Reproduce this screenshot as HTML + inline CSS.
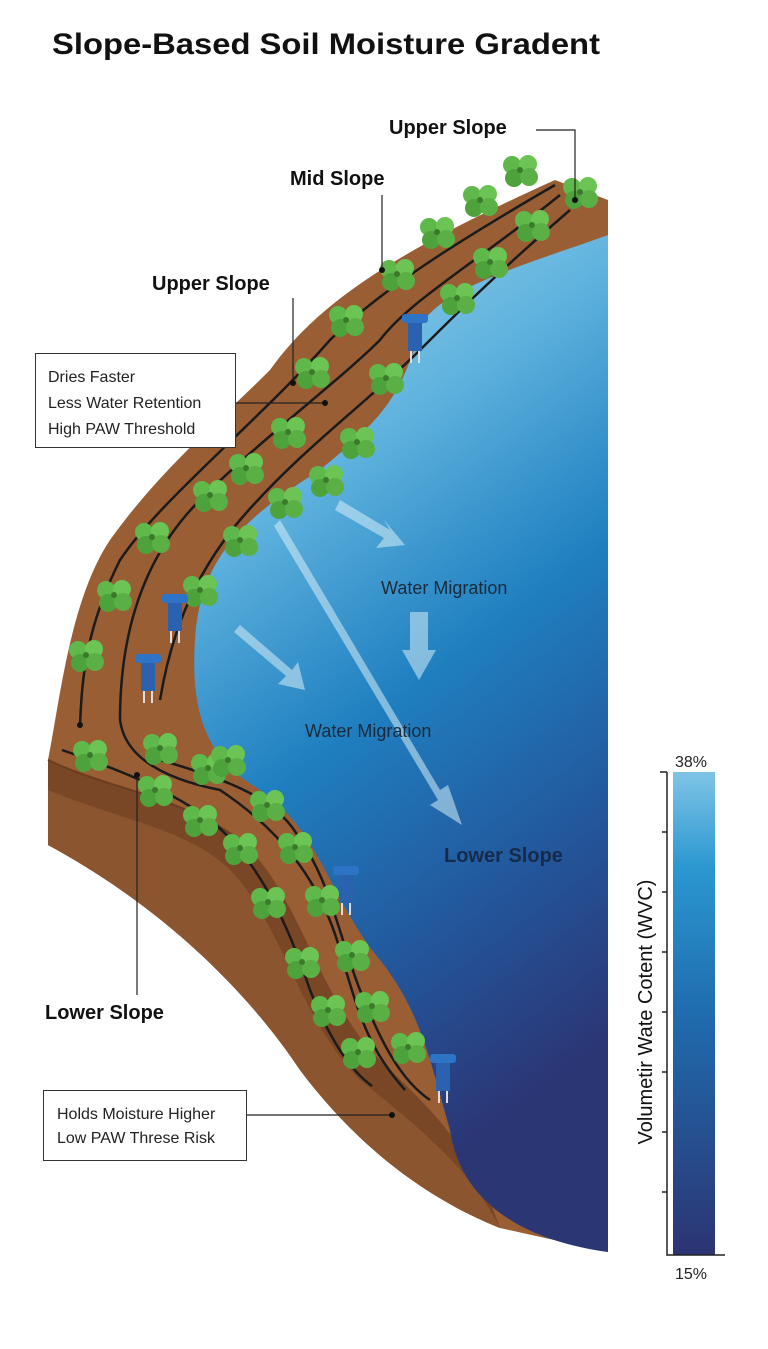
<!DOCTYPE html>
<html><head><meta charset="utf-8"><style>
html,body{margin:0;padding:0;background:#fff;}
body{width:768px;height:1344px;overflow:hidden;position:relative;font-family:"Liberation Sans",sans-serif;}
</style></head><body>
<svg width="768" height="1344" viewBox="0 0 768 1344" xmlns="http://www.w3.org/2000/svg" font-family="Liberation Sans, sans-serif">
<defs>
<linearGradient id="wg" x1="0" y1="0" x2="0.3" y2="1">
<stop offset="0" stop-color="#a9d8ec"/><stop offset="0.3" stop-color="#5fb3de"/><stop offset="0.55" stop-color="#1f7fc0"/><stop offset="0.8" stop-color="#23559a"/><stop offset="1" stop-color="#2b3675"/>
</linearGradient>
<linearGradient id="cb" x1="0" y1="0" x2="0" y2="1">
<stop offset="0" stop-color="#7fc4e6"/><stop offset="0.2" stop-color="#2a97d0"/><stop offset="0.5" stop-color="#1f6cae"/><stop offset="1" stop-color="#2c3472"/>
</linearGradient>
<g id="pl"><circle cx="-8" cy="-5" r="9" fill="#5fb84a"/><circle cx="8" cy="-6" r="9" fill="#6cc454"/><circle cx="-6" cy="8" r="9" fill="#4ea23c"/><circle cx="9" cy="7" r="9" fill="#5aaf45"/><circle cx="0" cy="0" r="3" fill="#3a7a2a"/></g>
<g id="sn"><rect x="-13" y="-6" width="26" height="9" rx="3" fill="#2e74c6"/><rect x="-7" y="3" width="14" height="28" fill="#2a62b0"/><rect x="-5" y="31" width="2" height="12" fill="#ddd"/><rect x="3" y="31" width="2" height="12" fill="#ddd"/></g>
</defs>
<text x="52" y="54" font-size="30" font-weight="bold" fill="#111" textLength="548" lengthAdjust="spacingAndGlyphs">Slope-Based Soil Moisture Gradent</text>
<!-- soil -->
<path d="M555 180 L608 200 L608 1252 L500 1228 C430 1200 360 1150 300 1070 C240 980 150 900 48 845 L48 760 C60 700 70 600 110 540 C160 470 220 420 270 370 C320 300 400 250 555 180 Z" fill="#9a5e35"/>
<path d="M48 760 C110 790 200 800 250 850 C300 900 320 1000 380 1060 C420 1100 470 1140 500 1228 C430 1200 360 1150 300 1070 C240 980 150 900 48 845 Z" fill="#7a4726"/>
<path d="M48 790 C120 820 190 830 230 870 C280 920 300 1020 360 1080 C410 1120 460 1160 490 1210 L500 1228 C430 1200 360 1150 300 1070 C240 980 150 900 48 845 Z" fill="#8b5530"/>
<path d="M48 760 C110 790 200 800 250 850" stroke="#6b3d20" stroke-width="2" fill="none"/>
<!-- water -->
<path d="M608 235 C540 260 430 290 420 330 C400 400 380 420 320 470 C240 520 200 560 195 640 C190 720 210 760 260 790 C320 830 330 900 380 960 C420 1010 430 1060 450 1130 C460 1200 520 1240 608 1252 Z" fill="url(#wg)"/>
<!-- arrows -->
<g fill="#d6eef8" opacity="0.55">
<path d="M340 500 L390 530 L384 520 L405 545 L376 548 L384 538 L335 510 Z"/>
<path d="M410 612 L428 612 L428 650 L436 650 L419 680 L402 650 L410 650 Z"/>
<path d="M240 625 L292 670 L298 662 L305 690 L278 684 L286 676 L234 632 Z"/>
<path d="M280 520 L440 790 L448 785 L462 825 L430 805 L438 800 L274 526 Z"/>
</g>
<!-- drip lines -->
<g stroke="#1b1b1b" stroke-width="2.5" fill="none">
<path d="M555 185 C460 240 380 290 330 340 C260 420 160 500 120 560 C85 630 82 680 80 725"/>
<path d="M560 195 C480 260 410 300 380 340 C340 380 260 440 200 500 C140 560 120 640 120 720 C125 760 170 780 220 790 C280 830 320 880 340 950 C360 1020 370 1050 405 1090"/>
<path d="M570 210 C500 270 450 320 420 350 C370 400 300 450 240 520 C190 580 170 640 160 700"/>
<path d="M62 750 C120 770 170 790 210 820 C260 860 290 930 310 990 C330 1040 350 1070 372 1086"/>
<path d="M160 760 C230 780 280 800 300 840 C330 880 340 940 360 990 C380 1040 400 1080 430 1100"/>
</g>
<g>
<use href="#pl" x="520" y="170"/><use href="#pl" x="580" y="192"/><use href="#pl" x="480" y="200"/><use href="#pl" x="437" y="232"/><use href="#pl" x="532" y="225"/><use href="#pl" x="490" y="262"/><use href="#pl" x="397" y="274"/><use href="#pl" x="457" y="298"/><use href="#pl" x="346" y="320"/><use href="#pl" x="312" y="372"/><use href="#pl" x="386" y="378"/><use href="#pl" x="288" y="432"/><use href="#pl" x="357" y="442"/><use href="#pl" x="246" y="468"/><use href="#pl" x="326" y="480"/><use href="#pl" x="210" y="495"/><use href="#pl" x="285" y="502"/><use href="#pl" x="152" y="537"/><use href="#pl" x="240" y="540"/><use href="#pl" x="114" y="595"/><use href="#pl" x="200" y="590"/><use href="#pl" x="86" y="655"/><use href="#pl" x="90" y="755"/><use href="#pl" x="160" y="748"/><use href="#pl" x="208" y="768"/><use href="#pl" x="155" y="790"/><use href="#pl" x="200" y="820"/><use href="#pl" x="267" y="805"/><use href="#pl" x="240" y="848"/><use href="#pl" x="295" y="847"/><use href="#pl" x="268" y="902"/><use href="#pl" x="322" y="900"/><use href="#pl" x="302" y="962"/><use href="#pl" x="352" y="955"/><use href="#pl" x="328" y="1010"/><use href="#pl" x="372" y="1006"/><use href="#pl" x="358" y="1052"/><use href="#pl" x="408" y="1047"/>
<use href="#pl" x="228" y="760"/>
</g>
<use href="#sn" x="415" y="320"/><use href="#sn" x="175" y="600"/><use href="#sn" x="148" y="660"/><use href="#sn" x="346" y="872"/><use href="#sn" x="443" y="1060"/>
<!-- labels -->
<g font-weight="bold" fill="#111" font-size="20">
<text x="389" y="134">Upper Slope</text>
<text x="290" y="185">Mid Slope</text>
<text x="152" y="290">Upper Slope</text>
<text x="444" y="862" fill="#162a4a">Lower Slope</text>
<text x="45" y="1019">Lower Slope</text>
</g>
<text x="381" y="594" font-size="18" fill="#1a2a3a">Water Migration</text>
<text x="305" y="737" font-size="18" fill="#1a2a3a">Water Migration</text>
<g stroke="#222" stroke-width="1.2" fill="none">
<path d="M536 130 L575 130 L575 200"/>
<path d="M382 195 L382 270"/>
<path d="M293 298 L293 383"/>
<path d="M235 403 L275 403 L325 403"/>
<path d="M137 775 L137 995"/>
<path d="M246 1115 L392 1115"/>
</g>
<g fill="#111"><circle cx="575" cy="200" r="3"/><circle cx="382" cy="270" r="3"/><circle cx="293" cy="383" r="3"/><circle cx="325" cy="403" r="3"/><circle cx="137" cy="775" r="3"/><circle cx="392" cy="1115" r="3"/><circle cx="80" cy="725" r="3"/></g>
<rect x="35.5" y="353.5" width="200" height="94" fill="#fff" stroke="#333"/>
<g font-size="16" fill="#222"><text x="48" y="382">Dries Faster</text><text x="48" y="408">Less Water Retention</text><text x="48" y="434">High PAW Threshold</text></g>
<rect x="43.5" y="1090.5" width="203" height="70" fill="#fff" stroke="#333"/>
<g font-size="16" fill="#222"><text x="57" y="1119">Holds Moisture Higher</text><text x="57" y="1143">Low PAW Threse Risk</text></g>
<!-- color bar -->
<rect x="673" y="772" width="42" height="483" fill="url(#cb)"/>
<g stroke="#222" stroke-width="1.5" fill="none"><path d="M667 772 L667 1255 L725 1255"/><path d="M660 772 L667 772"/>
<path d="M662 832 L667 832"/><path d="M662 892 L667 892"/><path d="M662 952 L667 952"/><path d="M662 1012 L667 1012"/><path d="M662 1072 L667 1072"/><path d="M662 1132 L667 1132"/><path d="M662 1192 L667 1192"/></g>
<text x="675" y="767" font-size="16" fill="#222">38%</text>
<text x="675" y="1279" font-size="16" fill="#222">15%</text>
<text transform="translate(652,1012) rotate(-90)" text-anchor="middle" font-size="20" fill="#111">Volumetir Wate Cotent (WVC)</text>
</svg>
</body></html>
